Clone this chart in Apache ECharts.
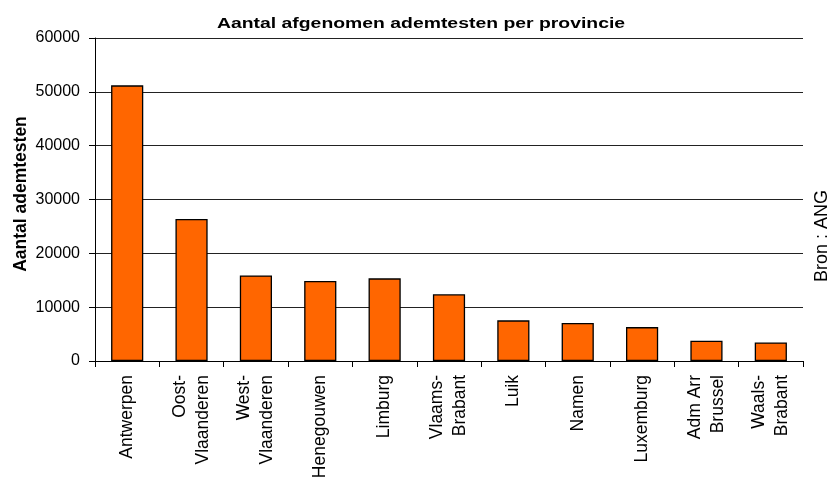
<!DOCTYPE html>
<html>
<head>
<meta charset="utf-8">
<script src="https://cdn.jsdelivr.net/npm/echarts@6/dist/echarts.min.js"></script>
<style>
html, body { margin: 0; padding: 0; background: #fff; }
#chart { width: 829px; height: 478px; }
</style>
</head>
<body>
<div id="chart"></div>
<script>
    // provincies en aantal ademtesten
    const provincies = ["Antwerpen", "Oost-\nVlaanderen", "West-\nVlaanderen", "Henegouwen", "Limburg",
        "Vlaams-\nBrabant", "Luik", "Namen", "Luxemburg", "Adm Arr\nBrussel", "Waals-\nBrabant"]
    const ademtesten = [51200, 26400, 15900, 14850, 15350, 12400, 7550, 7050, 6300, 3750, 3450]
    const yTicks = [0, 10000, 20000, 30000, 40000, 50000, 60000]

    const FONT = "'Liberation Sans', Arial, sans-serif"

    let myChart = echarts.init(document.getElementById("chart"), null, { renderer: "canvas" })

    myChart.setOption({
        animation: false,
        backgroundColor: "#fff",
        grid: {
            left: 95,
            right: 26,
            top: 38,
            bottom: 117,
            containLabel: false,
            outerBoundsMode: "none",
        },
        graphic: [
            {
                type: "text",
                x: 421,
                y: 24,
                scaleX: 1.14,
                scaleY: 0.85,
                style: {
                    text: "Aantal afgenomen ademtesten per provincie",
                    font: "bold 17px " + FONT,
                    fill: "#000",
                    textAlign: "center",
                    textVerticalAlign: "middle",
                    align: "center",
                    verticalAlign: "middle",
                },
            },
            {
                // as-titel
                type: "text",
                x: 21,
                y: 194,
                rotation: Math.PI / 2,
                style: {
                    text: "Aantal ademtesten",
                    font: "bold 17.5px " + FONT,
                    fill: "#000",
                    textAlign: "center",
                    textVerticalAlign: "middle",
                    align: "center",
                    verticalAlign: "middle",
                },
            },
            {
                // bron
                type: "text",
                x: 822,
                y: 236,
                rotation: Math.PI / 2,
                style: {
                    text: "Bron : ANG",
                    font: "18px " + FONT,
                    fill: "#000",
                    textAlign: "center",
                    textVerticalAlign: "middle",
                    align: "center",
                    verticalAlign: "middle",
                },
            },
        ],
        xAxis: {
            type: "category",
            data: provincies,
            axisLine: {
                lineStyle: { color: "#000", width: 1 },
            },
            axisTick: {
                show: true,
                length: 6,
                lineStyle: { color: "#000" },
            },
            axisLabel: {
                interval: 0,
                rotate: 90,
                margin: 14,
                color: "#000",
                fontFamily: FONT,
                fontSize: 17.5,
                lineHeight: 23,
            },
        },
        yAxis: {
            type: "value",
            min: yTicks[0],
            max: yTicks[yTicks.length - 1],
            interval: yTicks[1] - yTicks[0],
            axisLine: {
                show: true,
                lineStyle: { color: "#000", width: 1 },
            },
            axisTick: {
                show: true,
                length: 6,
                lineStyle: { color: "#000" },
            },
            axisLabel: {
                margin: 15,
                color: "#000",
                fontFamily: FONT,
                fontSize: 16,
                formatter: (v) => String(v),
            },
            splitLine: {
                lineStyle: { color: "#222", width: 1 },
            },
        },
        series: [
            {
                name: "Aantal ademtesten",
                type: "bar",
                data: ademtesten,
                barWidth: "50%",
                itemStyle: {
                    color: "#ff6600",
                    borderColor: "#000",
                    borderWidth: 1.3,
                },
            },
        ],
    })
</script>
</body>
</html>
